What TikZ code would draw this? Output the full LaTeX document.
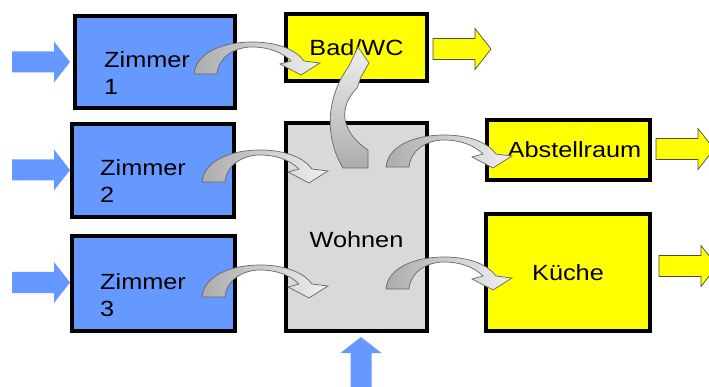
\documentclass[tikz,border=0pt]{standalone}
\usepackage{fontspec}
\setmainfont{Liberation Sans}[FakeStretch=1.15]
\usetikzlibrary{positioning}
\definecolor{roomblue}{RGB}{102,153,255}
\definecolor{outyellow}{RGB}{255,255,0}
\definecolor{livegray}{RGB}{217,217,217}

\tikzset{
  room/.style={rectangle, draw=black, line width=4pt, inner sep=0pt, font=\fontsize{22}{27}\selectfont},
  txt/.style={inner sep=0pt, align=left, font=\fontsize{22}{27}\selectfont},
  flow/.pic={
    \path[pic actions] (0,-10.5) -- (42,-10.5) -- (42,-20.5) -- (58,0) -- (42,20.5) -- (42,10.5) -- (0,10.5) -- cycle;
  },
  bend/.pic={
    \path[draw=black!60, line width=0.7pt, left color=gray!65, right color=gray!12]
      (0,0) .. controls (2,-22) and (30,-32) .. (58,-32)
      .. controls (84,-32) and (102,-24) .. (110,-13)
      -- (126,-11) -- (107,1) -- (86,-10) -- (97,-13)
      .. controls (88,-22) and (74,-27) .. (58,-27)
      .. controls (40,-27) and (24,-16) .. (23,0) -- cycle;
  }
}

\begin{document}
\begin{tikzpicture}[x=1pt, y=-1pt]
    \useasboundingbox (0,0) rectangle (709,387);
    \clip (0,0) rectangle (709,387);

    % rooms
    \node[room, fill=roomblue, minimum width=160pt, minimum height=92pt] (z1) at (155,62) {};
    \node[room, fill=roomblue, minimum width=162pt, minimum height=93pt] (z2) at (153,170.5) {};
    \node[room, fill=roomblue, minimum width=163pt, minimum height=95pt] (z3) at (153.5,283.5) {};
    \node[room, fill=livegray, minimum width=141pt, minimum height=208pt] (wohnen) at (356.5,227) {};
    \node[room, fill=outyellow, minimum width=141pt, minimum height=67pt] (bad) at (356.5,47.5) {Bad/WC};
    \node[room, fill=outyellow, minimum width=163pt, minimum height=60pt] (abst) at (568.5,150) {\hspace{12pt}Abstellraum};
    \node[room, fill=outyellow, minimum width=164pt, minimum height=117pt] (kueche) at (568,272.5) {K\"uche};

    \node[txt, right=31pt of z1.west, yshift=-11.5pt] (z1t) {Zimmer\\1};
    \node[txt, right=30pt of z2.west, yshift=-11pt] (z2t) {Zimmer\\2};
    \node[txt, right=30pt of z3.west, yshift=-12pt] (z3t) {Zimmer\\3};
    \node[txt] (wt) at ([yshift=-13pt]wohnen.center) {Wohnen};

    % in- and outflow
    \pic[fill=roomblue] at (12,62) {flow};
    \pic[fill=roomblue] at (12,170) {flow};
    \pic[fill=roomblue] at (12,282.5) {flow};
    \pic[fill=roomblue, rotate=90] at (361,395) {flow};
    \pic[fill=outyellow, draw=black!70, line width=0.7pt] at (433,49) {flow};
    \pic[fill=outyellow, draw=black!70, line width=0.7pt] at (656,149) {flow};
    \pic[fill=outyellow, draw=black!70, line width=0.7pt] at (659,266) {flow};

    % transitions between rooms
    \pic at (194,74) {bend};
    \pic at (202,182) {bend};
    \pic at (202,297) {bend};
    \pic at (386,167) {bend};
    \pic at (386,289) {bend};
    \path[draw=black!60, line width=0.7pt, bottom color=gray!65, top color=gray!12]
      (343,168) .. controls (326,140) and (324,100) .. (349,66)
      -- (358,47) -- (369,63) -- (361,77) -- (357,88)
      .. controls (340,105) and (338,130) .. (368,150) -- (368,168) -- cycle;
\end{tikzpicture}
\end{document}
